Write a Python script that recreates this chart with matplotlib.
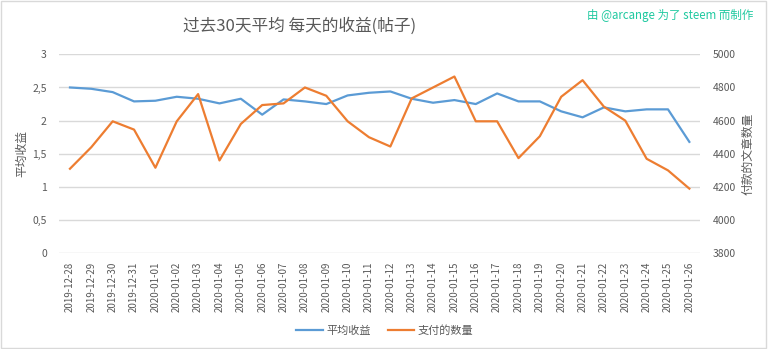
import matplotlib.pyplot as plt
from matplotlib.patches import Rectangle
from matplotlib.ticker import FuncFormatter

plt.rcParams['font.family'] = ['Noto Sans CJK SC', 'DejaVu Sans']

# 日期与两条序列
dates = ['2019-12-28', '2019-12-29', '2019-12-30', '2019-12-31',
         '2020-01-01', '2020-01-02', '2020-01-03', '2020-01-04', '2020-01-05',
         '2020-01-06', '2020-01-07', '2020-01-08', '2020-01-09', '2020-01-10',
         '2020-01-11', '2020-01-12', '2020-01-13', '2020-01-14', '2020-01-15',
         '2020-01-16', '2020-01-17', '2020-01-18', '2020-01-19', '2020-01-20',
         '2020-01-21', '2020-01-22', '2020-01-23', '2020-01-24', '2020-01-25',
         '2020-01-26']
avg_reward = [2.50, 2.48, 2.43, 2.29, 2.30, 2.36, 2.33, 2.26, 2.33, 2.09,
              2.32, 2.29, 2.25, 2.38, 2.42, 2.44, 2.33, 2.27, 2.31, 2.25,
              2.41, 2.29, 2.29, 2.14, 2.05, 2.20, 2.14, 2.17, 2.17, 1.68]
paid_posts = [4310, 4440, 4596, 4546, 4316, 4596, 4760, 4360, 4580, 4694,
              4704, 4800, 4750, 4596, 4500, 4444, 4734, 4800, 4866, 4596,
              4596, 4374, 4506, 4744, 4844, 4684, 4600, 4370, 4300, 4190]

grey = '#595959'
grid_c = '#d9d9d9'
blue = '#5b9bd5'
orange = '#ed7d31'

fig = plt.figure(figsize=(7.68, 3.49), dpi=100)
ax = fig.add_axes([0.0772, 0.2742, 0.8343, 0.5702])
ax2 = ax.twinx()

x = range(len(dates))
l1, = ax.plot(x, avg_reward, color=blue, lw=1.6, label='平均收益')
l2, = ax2.plot(x, paid_posts, color=orange, lw=1.6, label='支付的数量')

ax.set_xlim(-0.5, len(dates) - 0.5)
ax.set_ylim(0, 3)
ax2.set_ylim(3800, 5000)
ax.set_yticks([0, 0.5, 1, 1.5, 2, 2.5, 3])
ax.yaxis.set_major_formatter(FuncFormatter(lambda v, p: f'{v:g}'.replace('.', ',')))
ax2.set_yticks(range(3800, 5001, 200))

ax.set_xticks(list(x))
ax.set_xticklabels(dates, rotation=90, fontsize=7, color=grey)
ax.yaxis.grid(True, color=grid_c, lw=1)
ax.set_axisbelow(True)

for a in (ax, ax2):
    for s in a.spines.values():
        s.set_visible(False)
    a.tick_params(length=0, colors=grey, labelsize=7.5)
ax.tick_params(axis='x', pad=6, labelsize=7)
ax.tick_params(axis='y', pad=9)
ax2.tick_params(axis='y', pad=9)

ax.set_ylabel('平均收益', color=grey, fontsize=8.5, labelpad=3)
ax2.set_ylabel('付款的文章数量', color=grey, fontsize=8.5, labelpad=4)

fig.text(0.39, 0.925, '过去30天平均 每天的收益(帖子)', ha='center', va='center',
         fontsize=12, color=grey)
fig.text(0.981, 0.955, '由 @arcange 为了 steem 而制作', ha='right', va='center',
         fontsize=8.3, color='#1fc9a0')

fig.legend(handles=[l1, l2], loc='center', bbox_to_anchor=(0.501, 0.052),
           ncol=2, frameon=False, fontsize=8, handlelength=2.4,
           handletextpad=0.3, columnspacing=1.5, labelcolor=grey)

fig.patches.append(Rectangle((0.001, 0.002), 0.997, 0.995, transform=fig.transFigure,
                             fill=False, edgecolor=grid_c, lw=1))

fig.savefig('out.png', dpi=100)
